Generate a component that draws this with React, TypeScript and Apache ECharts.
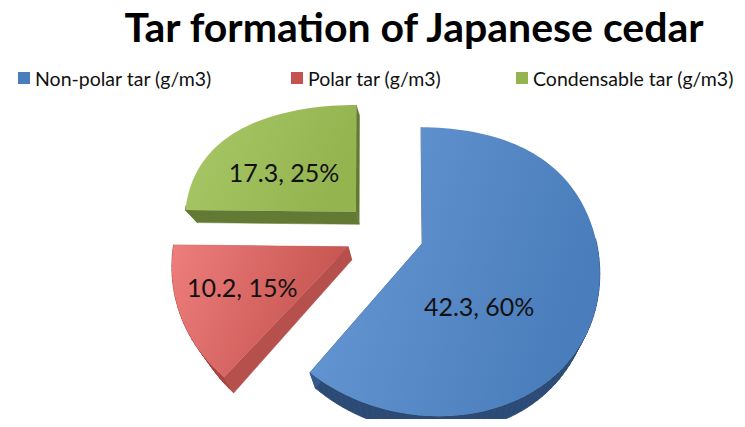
import React, { useEffect, useRef } from "react";
import * as echarts from "echarts";

// ---- data ----
const categories = ["Non-polar tar (g/m3)", "Polar tar (g/m3)", "Condensable tar (g/m3)"];
const values = [42.3, 10.2, 17.3];
const percentLabels = ["60%", "15%", "25%"];
const titleText = "Tar formation of Japanese cedar";

// ---- styles ----
const topColors = [
  ["#6a9ad8", "#4a7dbb"],
  ["#ee7e7c", "#c4534f"],
  ["#a9c868", "#94b450"],
];
const sideColors = ["#2b4b76", "#a8413e", "#5e7631"];
const edgeColors = ["#34598c", "#b5504d", "#627a33"];
const legendLefts = [13, 286, 511];
// label placement (angle in deg clockwise from back, radius in pie units)
const labelAng = [146, 245, 308];
const labelRad = [0.5, 0.644, 0.54];

export default function App() {
  const ref = useRef<HTMLDivElement>(null);
  useEffect(() => {
    if (!ref.current) return;
    const chart = echarts.init(ref.current, undefined, { renderer: "svg" });
    const total = values.reduce((a, b) => a + b, 0);
    const starts: number[] = [];
    let acc = 0;
    values.forEach((v) => {
      starts.push((acc / total) * 360);
      acc += v;
    });

    const EXPLODE = 0.23;
    const P = 0.193;
    const C = 0.1;
    const DEPTH = 13;
    const rad = (d: number) => (d * Math.PI) / 180;

    const makeRender = (idx: number) => (params: any, api: any) => {
      const W = api.getWidth();
      const H = api.getHeight();
      const CX = W * 0.5155;
      const CY = H * 0.546;
      const SX = W * 0.2322;
      const SY = H * 0.316;
      const VX = W * 0.463; // horizontal perspective reference
      const DX = W * 0.564; // depth convergence reference
      const proj = (u: number, v: number, dz = 0) => {
        const s = 1 / (1 + P * v);
        const g = 1 + C * (v * v - v);
        const X = VX + (CX + SX * u - VX) * g;
        const Y = CY - SY * v * s;
        if (!dz) return [X, Y];
        return [X + (DX - X) * 0.05 * (dz / DEPTH), Y + dz * s];
      };
      const val = api.value(0);
      const a0 = starts[idx];
      const a1 = a0 + (val / total) * 360;
      const b = rad((a0 + a1) / 2);
      const ou = EXPLODE * Math.sin(b);
      const ov = EXPLODE * Math.cos(b);
      const steps = Math.max(8, Math.round((a1 - a0) / 2));
      const arc: number[][] = [];
      for (let i = 0; i <= steps; i++) {
        const t = rad(a0 + ((a1 - a0) * i) / steps);
        arc.push([ou + Math.sin(t), ov + Math.cos(t)]);
      }
      const children: any[] = [];
      // arc side faces
      for (let i = 0; i < arc.length - 1; i++) {
        const p = arc[i], q = arc[i + 1];
        const mid = (p[1] + q[1]) / 2 - ov;
        if (mid > 0.05) continue;
        const pts = [proj(p[0], p[1]), proj(q[0], q[1]), proj(q[0], q[1], DEPTH), proj(p[0], p[1], DEPTH)];
        children.push({
          type: "polygon",
          shape: { points: pts },
          style: { fill: sideColors[idx], stroke: sideColors[idx], lineWidth: 0.8 },
        });
      }
      // radial side faces
      const v0 = [ou, ov];
      [arc[0], arc[arc.length - 1]].forEach((p) => {
        const pts = [proj(v0[0], v0[1]), proj(p[0], p[1]), proj(p[0], p[1], DEPTH), proj(v0[0], v0[1], DEPTH)];
        children.push({
          type: "polygon",
          shape: { points: pts },
          style: { fill: edgeColors[idx], stroke: edgeColors[idx], lineWidth: 0.5 },
        });
      });
      // top face
      const topPts = [proj(v0[0], v0[1]), ...arc.map((p) => proj(p[0], p[1]))];
      children.push({
        type: "polygon",
        shape: { points: topPts },
        style: {
          fill: new echarts.graphic.LinearGradient(0, 0, 1, 0.3, [
            { offset: 0, color: topColors[idx][0] },
            { offset: 1, color: topColors[idx][1] },
          ]),
        },
      });
      // label
      const la = rad(labelAng[idx]);
      const lp = proj(ou + labelRad[idx] * Math.sin(la), ov + labelRad[idx] * Math.cos(la));
      children.push({
        type: "text",
        x: lp[0],
        y: lp[1],
        style: {
          text: `${val}, ${percentLabels[idx]}`,
          fill: "#111111",
          font: "25px Lato",
          align: "center",
          verticalAlign: "middle",
        },
      });
      return { type: "group", children };
    };

    const order = [2, 1, 0];
    const series: any[] = order.map((i) => ({
      type: "custom",
      name: categories[i],
      coordinateSystem: "none",
      itemStyle: { color: topColors[i][1] },
      data: [[values[i]]],
      renderItem: makeRender(i),
      silent: true,
    }));

    const legends = categories.map((c, i) => ({
      data: [c],
      left: legendLefts[i],
      top: 63,
      icon: "rect",
      itemWidth: 12,
      itemHeight: 12,
      textStyle: { fontFamily: "Lato", fontSize: 19.5, color: "#111111" },
    }));

    chart.setOption({
      animation: false,
      backgroundColor: "#ffffff",
      title: {
        text: titleText,
        left: 409,
        top: 1,
        textAlign: "center",
        textStyle: { fontFamily: "Lato", fontWeight: "bold", fontSize: 41, color: "#000000" },
      },
      legend: legends,
      series,
    });
    return () => chart.dispose();
  }, []);
  return <div ref={ref} style={{ width: 745, height: 427, margin: -8 }} />;
}
